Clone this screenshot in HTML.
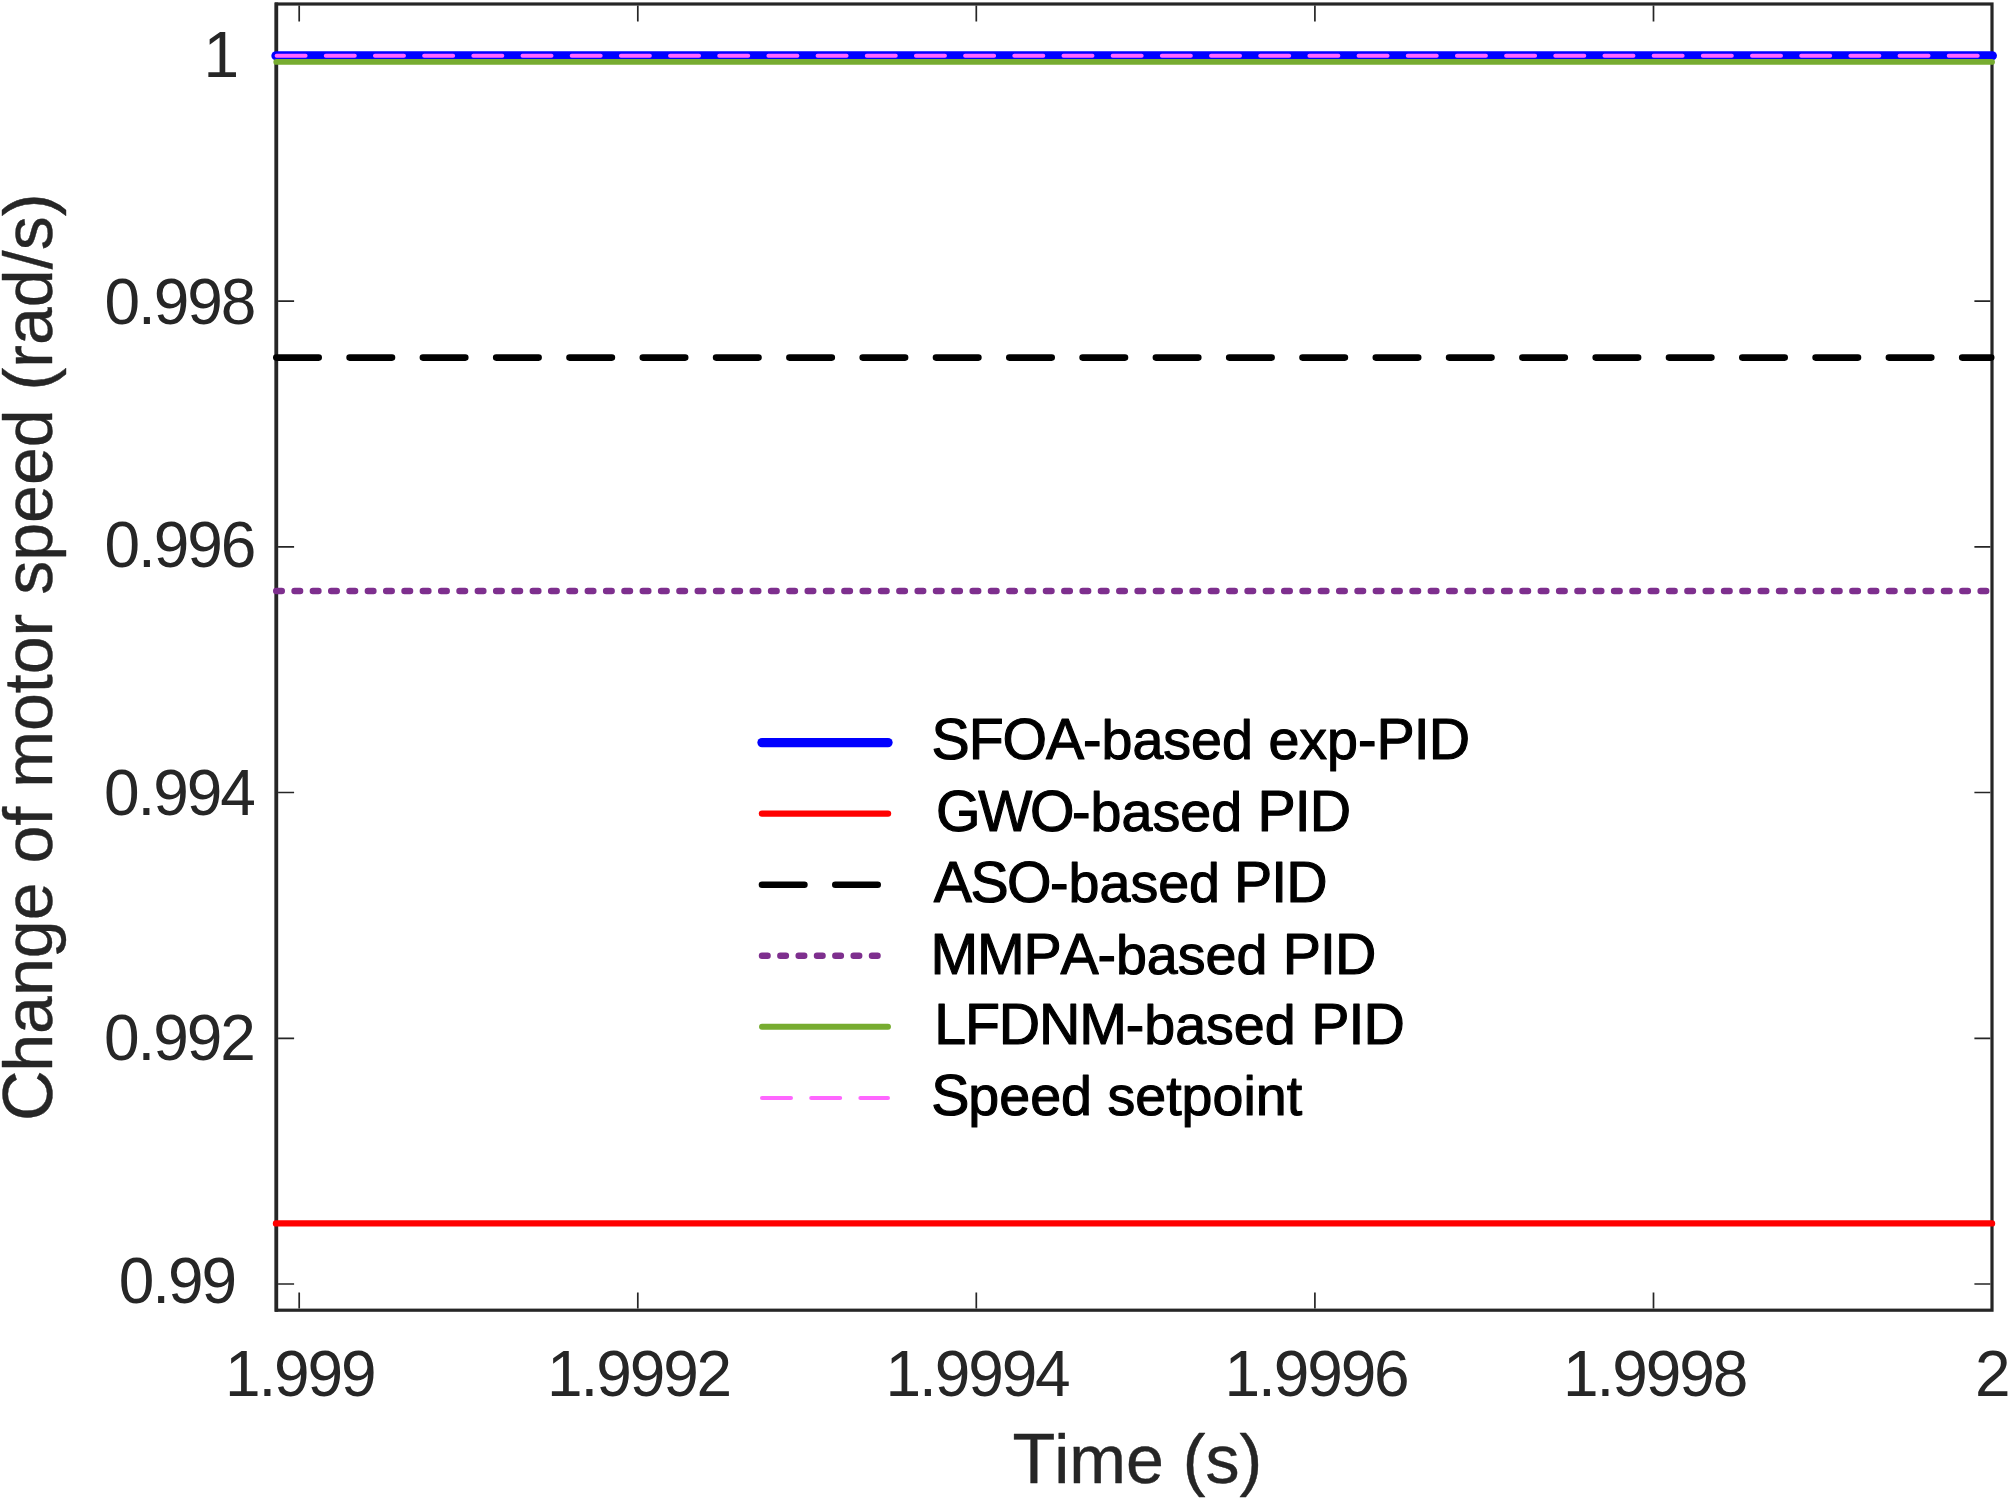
<!DOCTYPE html>
<html lang="en">
<head>
<meta charset="utf-8">
<title>Change of motor speed</title>
<style>
html,body{margin:0;padding:0;background:#fff;}
body{width:2008px;height:1499px;overflow:hidden;position:relative;}
svg{position:absolute;left:0;top:0;display:block;}
text{font-family:"Liberation Sans",Arial,Helvetica,sans-serif;font-kerning:none;font-variant-ligatures:none;}
.tk{font-size:64.0px;letter-spacing:-2.1px;fill:#262626;}
.lb{font-size:68.1px;letter-spacing:0px;fill:#262626;stroke:#262626;stroke-width:0.4;stroke-linejoin:round;}
.lg{font-size:55.6px;fill:#000;stroke:#000;stroke-width:1.1;stroke-linejoin:round;}
</style>
</head>
<body>
<svg width="2008" height="1499" viewBox="0 0 2008 1499">
<rect x="0" y="0" width="2008" height="1499" fill="#ffffff"/>
<!-- axes box -->
<rect x="276.5" y="4.0" width="1715.5" height="1306.2" fill="none" stroke="#262626" stroke-width="3.2"/>
<line x1="276.25" y1="2.4" x2="276.25" y2="1311.8" stroke="#262626" stroke-width="3.7"/>
<!-- ticks -->
<path d="M299.2 1308.6V1292.6M299.2 5.6V21.6M637.8 1308.6V1292.6M637.8 5.6V21.6M976.3 1308.6V1292.6M976.3 5.6V21.6M1314.9 1308.6V1292.6M1314.9 5.6V21.6M1653.5 1308.6V1292.6M1653.5 5.6V21.6M278.1 301.1H294.1M1990.4 301.1H1974.4M278.1 546.8H294.1M1990.4 546.8H1974.4M278.1 792.5H294.1M1990.4 792.5H1974.4M278.1 1038.3H294.1M1990.4 1038.3H1974.4M278.1 1284.0H294.1M1990.4 1284.0H1974.4" fill="none" stroke="#262626" stroke-width="1.7"/>
<!-- data lines -->
<g fill="none" stroke-linecap="round">
  <line x1="276" y1="55.8" x2="1992.3" y2="55.8" stroke="#0000FF" stroke-width="9.3"/>
  <line x1="276" y1="1223.4" x2="1992" y2="1223.4" stroke="#FF0000" stroke-width="6.4"/>
  <line x1="276.3" y1="357.6" x2="1991.2" y2="357.6" stroke="#000000" stroke-width="6.6" stroke-dasharray="42.4 30.9"/>
  <line x1="276.2" y1="591" x2="1992" y2="591" stroke="#7E2F8E" stroke-width="6.4" stroke-dasharray="5.6 12.727"/>
  <line x1="276.3" y1="61.9" x2="1992" y2="61.9" stroke="#77AC30" stroke-width="5.9"/>
  <line x1="276.6" y1="55.8" x2="1992" y2="55.8" stroke="#FF66FF" stroke-width="4" stroke-dasharray="29 20.18"/>
</g>
<!-- x tick labels -->
<text class="tk" text-anchor="middle" transform="translate(299.75 1395.7) scale(1 1.02)">1.999</text>
<text class="tk" text-anchor="middle" transform="translate(638.55 1395.7) scale(1 1.02)">1.9992</text>
<text class="tk" text-anchor="middle" transform="translate(977.05 1395.7) scale(1 1.02)">1.9994</text>
<text class="tk" text-anchor="middle" transform="translate(1316.05 1395.7) scale(1 1.02)">1.9996</text>
<text class="tk" text-anchor="middle" transform="translate(1654.6499999999999 1395.7) scale(1 1.02)">1.9998</text>
<text class="tk" text-anchor="middle" transform="translate(1991.6499999999999 1395.7) scale(1 1.02)">2</text>
<!-- y tick labels -->
<text class="tk" text-anchor="end" transform="translate(237.1 76.6) scale(1 1.02)">1</text>
<text class="tk" text-anchor="end" transform="translate(254.2 323.8) scale(1 1.02)">0.998</text>
<text class="tk" text-anchor="end" transform="translate(254.2 567.3) scale(1 1.02)">0.996</text>
<text class="tk" text-anchor="end" transform="translate(253.7 814.5) scale(1 1.02)">0.994</text>
<text class="tk" text-anchor="end" transform="translate(253.7 1059.6) scale(1 1.02)">0.992</text>
<text class="tk" text-anchor="end" transform="translate(235.0 1303.0) scale(1 1.02)">0.99</text>
<!-- axis labels -->
<text class="lb" text-anchor="middle" transform="translate(1137.4 1483.0) scale(1 1.0)"><tspan style="font-size:70.14px;letter-spacing:-1.25px">T</tspan>ime (s)</text>
<text class="lb" text-anchor="middle" transform="translate(52 657.3) rotate(-90) scale(1 1.0)"><tspan style="font-size:70.14px;letter-spacing:-1.48px">C</tspan>hange of motor speed (rad/s)</text>
<!-- legend -->
<g fill="none" stroke-linecap="round">
  <line x1="762" y1="742.6" x2="888" y2="742.6" stroke="#0000FF" stroke-width="9.3"/>
  <line x1="762" y1="813.6" x2="888" y2="813.6" stroke="#FF0000" stroke-width="6.4"/>
  <line x1="762" y1="884.7" x2="888" y2="884.7" stroke="#000000" stroke-width="6.6" stroke-dasharray="42.4 30.9"/>
  <line x1="762" y1="955.7" x2="888" y2="955.7" stroke="#7E2F8E" stroke-width="6.4" stroke-dasharray="5.6 12.727"/>
  <line x1="762" y1="1026.8" x2="888" y2="1026.8" stroke="#77AC30" stroke-width="5.9"/>
  <line x1="762" y1="1097.9" x2="888" y2="1097.9" stroke="#FF66FF" stroke-width="4" stroke-dasharray="29 20.18"/>
</g>
<text class="lg" text-anchor="start" transform="translate(931.6 759.4) scale(1 1.0)"><tspan style="font-size:57.27px;letter-spacing:-1.14px">SFOA</tspan>-based exp-<tspan style="font-size:57.27px;letter-spacing:-0.93px">PID</tspan></text>
<text class="lg" text-anchor="start" transform="translate(936.1 831.4) scale(1 1.0)"><tspan style="font-size:57.27px;letter-spacing:-2.39px">GWO</tspan>-based <tspan style="font-size:57.27px;letter-spacing:-0.93px">PID</tspan></text>
<text class="lg" style="word-spacing:-1.5px" text-anchor="start" transform="translate(933.8 902.3) scale(1 1.0)"><tspan style="font-size:57.27px;letter-spacing:-1.57px">ASO</tspan>-based <tspan style="font-size:57.27px;letter-spacing:-0.93px">PID</tspan></text>
<text class="lg" text-anchor="start" transform="translate(930.6 974.0) scale(1 1.0)"><tspan style="font-size:57.27px;letter-spacing:-1.25px">MMPA</tspan>-based <tspan style="font-size:57.27px;letter-spacing:-0.93px">PID</tspan></text>
<text class="lg" text-anchor="start" transform="translate(934.2 1043.8) scale(1 1.0)"><tspan style="font-size:57.27px;letter-spacing:-1.15px">LFDNM</tspan>-based <tspan style="font-size:57.27px;letter-spacing:-0.93px">PID</tspan></text>
<text class="lg" text-anchor="start" transform="translate(931.2 1114.9) scale(1 1.0)"><tspan style="font-size:57.27px;letter-spacing:-1.11px">S</tspan>peed setpoint</text>
</svg>
</body>
</html>
